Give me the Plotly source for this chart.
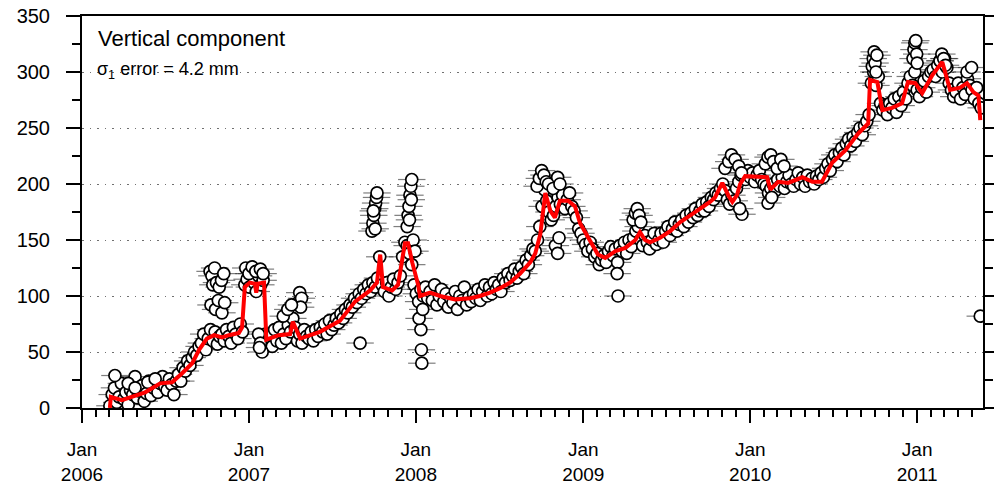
import numpy as np
import pandas as pd
import plotly.graph_objects as go

BASE = pd.Timestamp("2006-01-01")

# Regular daily-ish observations (every 5 days from 2006-03-03)
obs_start = "2006-03-03"
obs_values = [
    2, 12, 18, 5, 10, 22, 8, 14, 3, 16,
    12, 28, 9, 15, 20, 6, 13, 24, 11, 18,
    25, 14, 22, 28, 19, 16, 26, 21, 12, 24,
    30, 24, 36, 33, 42, 38, 45, 50, 47, 55,
    58, 66, 52, 62, 70, 60, 68, 57, 64, 66,
    60, 70, 64, 58, 72, 66, 62, 75, 68, 110,
    115, 108, 120, 112, 104, 118, 110, 114, 66, 58,
    65, 55, 70, 60, 72, 58, 66, 62, 74, 68,
    80, 72, 60, 66, 58, 70, 64, 62, 68, 60,
    70, 64, 72, 68, 75, 66, 78, 70, 74, 80,
    76, 84, 80, 88, 85, 92, 90, 98, 94, 102,
    98, 106, 102, 110, 104, 112, 108, 116, 135, 110,
    104, 112, 100, 108, 115, 106, 112, 118, 135, 148,
    145, 138, 128, 110, 102, 95, 106, 100, 108, 98,
    104, 96, 110, 92, 100, 106, 95, 102, 90, 98,
    94, 104, 88, 100, 96, 108, 92, 99, 95, 102,
    98, 106, 96, 104, 110, 100, 108, 102, 112, 106,
    110, 104, 116, 112, 120, 114, 118, 124, 116, 122,
    126, 120, 132, 128, 136, 142, 140, 150, 162, 180,
    195, 185, 175, 168, 172, 180, 188, 182, 190, 178,
    186, 192, 180, 176, 170, 160, 156, 150, 146, 140,
    148, 142, 135, 138, 128, 132, 136, 130, 140, 144,
    136, 142, 130, 145, 140, 148, 138, 150, 144, 152,
    158, 162, 150, 145, 154, 148, 142, 150, 156, 146,
    150, 156, 148, 158, 162, 154, 160, 166, 158, 164,
    168, 162, 172, 166, 174, 170, 178, 172, 176, 182,
    176, 184, 180, 188, 186, 192, 190, 196, 200, 194,
    186, 182, 190, 185, 196, 202, 208, 210, 204, 212,
    206, 210, 202, 208, 212, 204, 200, 198, 192, 196,
    200, 194, 204, 198, 206, 196, 202, 208, 200, 198,
    204, 210, 200, 206, 198, 208, 202, 205, 200, 207,
    204, 210, 206, 214, 218, 212, 222, 226, 220, 228,
    232, 226, 236, 240, 234, 242, 238, 246, 250, 244,
    252, 256, 262, 290, 300, 288, 296, 272, 266, 270,
    262, 272, 268, 276, 264, 278, 270, 282, 276, 290,
    296, 288, 300, 284, 278, 286, 292, 282, 296, 300,
    302, 296, 306, 310, 300, 312, 304, 290, 284, 278,
    282, 290, 276, 286, 280, 294, 288, 284, 276, 286,
    272, 268,
]

# Extra observations (day offset from 2006-01-01, value) for clusters/outliers
extra_days = [
    72, 101, 144, 160, 116,
    280, 284, 286, 290, 294, 300, 305, 310, 282, 292, 298, 306, 312,
    358, 365, 372, 380, 390, 396, 386, 390, 394, 388,
    472, 476, 480, 478, 440, 450, 458, 608,
    634, 636, 638, 640, 642, 644, 645, 637, 641,
    711, 713, 715, 717, 719, 721, 716, 720, 724, 728,
    741, 742, 743, 737, 745,
    995, 1000, 1005, 1010, 1015, 1020, 1030, 1040, 1045, 1035, 1040, 1043,
    1172, 1170,
    1205, 1210, 1214, 1218, 1222,
    1406, 1414, 1420, 1428, 1436, 1442, 1443, 1438,
    1494, 1500, 1506, 1512, 1520, 1528, 1535, 1500, 1508,
    1728, 1730, 1732, 1734, 1736, 1738,
    1817, 1819, 1821, 1823, 1825, 1826,
    1876, 1880, 1884, 1888, 1935, 1945,
    1964,
]
extra_values = [
    29, 22, 23, 26, 18,
    122, 118, 110, 125, 112, 108, 114, 120, 92, 88, 96, 85, 94,
    125, 120, 126, 122, 124, 120, 66, 58, 50, 54,
    94, 103, 98, 90, 82, 88, 92, 58,
    158, 165, 172, 178, 183, 188, 192, 176, 160,
    162, 172, 180, 190, 198, 204, 168, 186, 150, 140,
    70, 52, 40, 80, 88,
    198, 205, 212, 208, 202, 200, 196, 206, 200, 145, 138, 152,
    100, 120,
    168, 174, 178, 172, 166,
    214, 220, 226, 222, 216, 210, 173, 178,
    218, 224, 226, 220, 214, 222, 216, 183, 188,
    305, 312, 318, 308, 300, 315,
    312, 320, 326, 328, 316, 308,
    310, 316, 312, 306, 300, 304,
    82,
]

# Smoothed (red) curve: day offset from 2006-01-01 and value
smooth_days = [
    61, 63, 87, 109, 138, 171, 197, 219, 241, 256, 273, 289, 306, 321, 343, 350, 356, 367,
    378, 381, 384, 398, 401, 403, 430, 455, 461, 477, 520, 564, 597, 630, 645, 652, 658,
    678, 691, 706, 713, 722, 735, 739, 761, 783, 816, 849, 870, 892, 914, 936, 958, 980,
    991, 1002, 1013, 1024, 1034, 1045, 1063, 1078, 1089, 1111, 1128, 1144, 1166, 1188,
    1210, 1220, 1231, 1242, 1264, 1286, 1308, 1330, 1352, 1373, 1384, 1400, 1413, 1422,
    1432, 1439, 1450, 1498, 1505, 1522, 1544, 1575, 1597, 1618, 1640, 1669, 1697, 1719,
    1723, 1739, 1750, 1771, 1793, 1806, 1822, 1837, 1859, 1881, 1898, 1920, 1935, 1949,
    1960, 1964,
]
smooth_values = [
    0, 10, 7, 10, 14, 22, 23, 31, 40, 52, 62, 65, 63, 65, 67, 72, 108, 112,
    111, 103, 111, 112, 90, 61, 65, 66, 77, 62, 68, 78, 95, 105, 112, 137, 108,
    105, 110, 147, 147, 130, 110, 100, 103, 100, 97, 98, 100, 103, 107, 112, 120, 130,
    138, 155, 192, 176, 170, 185, 185, 180, 165, 150, 137, 134, 140, 143,
    150, 157, 150, 148, 152, 158, 166, 172, 178, 184, 188, 201, 190, 184,
    190, 200, 207, 206, 195, 202, 201, 206, 202, 202, 219, 230, 245, 254,
    293, 291, 266, 268, 272, 291, 290, 281, 297, 309, 284, 286, 290, 282,
    279, 257,
]

x_tick_dates = ["2006-01-01", "2007-01-01", "2008-01-01", "2009-01-01", "2010-01-01", "2011-01-01"]
x_tick_labels = ["Jan<br>2006", "Jan<br>2007", "Jan<br>2008", "Jan<br>2009", "Jan<br>2010", "Jan<br>2011"]
y_tick_vals = [0, 50, 100, 150, 200, 250, 300, 350]

ERR_DAYS = 30  # half-length of the horizontal bars drawn through each point

# ---- build ----
obs_dates = pd.date_range(obs_start, periods=len(obs_values), freq="5D")
ex_dates = BASE + pd.to_timedelta(extra_days, unit="D")
all_dates = list(obs_dates) + list(ex_dates)
all_vals = list(obs_values) + list(extra_values)

seg_x, seg_y = [], []
half = pd.Timedelta(days=ERR_DAYS)
for d, v in zip(all_dates, all_vals):
    seg_x += [d - half, d + half, None]
    seg_y += [v, v, None]

sm_dates = BASE + pd.to_timedelta(smooth_days, unit="D")

fig = go.Figure()
fig.add_trace(go.Scatter(x=seg_x, y=seg_y, mode="lines",
                         line=dict(color="rgba(40,40,40,0.6)", width=1.2),
                         hoverinfo="skip", showlegend=False))
fig.add_trace(go.Scatter(x=all_dates, y=all_vals, mode="markers",
                         marker=dict(size=12, color="white",
                                     line=dict(color="black", width=1.7)),
                         showlegend=False))
fig.add_trace(go.Scatter(x=sm_dates, y=smooth_values, mode="lines",
                         line=dict(color="#ff0000", width=4),
                         showlegend=False))

font_family = "Liberation Sans, Arial, sans-serif"
fig.update_layout(
    width=994, height=485,
    margin=dict(l=82, r=11, t=16, b=77, autoexpand=False),
    paper_bgcolor="white", plot_bgcolor="white",
    font=dict(family=font_family, size=20, color="black"),
    showlegend=False,
)
fig.update_xaxes(
    type="date", automargin=False,
    range=["2006-01-01", "2011-05-25"],
    tickvals=x_tick_dates, ticktext=x_tick_labels,
    tickfont=dict(size=19),
    ticks="outside", ticklen=13, tickwidth=1.5, tickcolor="black",
    showline=True, linewidth=2, linecolor="black", mirror=True,
    showgrid=False, zeroline=False,
    minor=dict(dtick="M1", tick0="2006-01-01", ticks="outside", ticklen=7,
               tickwidth=1.5, tickcolor="black", showgrid=False),
    ticklabelstandoff=10,
)
fig.update_yaxes(
    automargin=False,
    range=[0, 350],
    tickvals=y_tick_vals,
    tickfont=dict(size=20),
    ticks="outside", ticklen=14, tickwidth=1.5, tickcolor="black",
    showline=True, linewidth=2, linecolor="black", mirror="ticks",
    showgrid=True, gridcolor="#707070", gridwidth=1.2, griddash="1.5px,6px",
    zeroline=False,
    minor=dict(dtick=25, ticks="outside", ticklen=8, tickwidth=1.5,
               tickcolor="black", showgrid=False),
    ticklabelstandoff=12,
)
fig.add_annotation(xref="paper", yref="paper", x=(96 - 82) / 901, y=(408 - 24) / 392,
                   xanchor="left", yanchor="top", showarrow=False,
                   text="Vertical component", font=dict(size=22, family=font_family))
fig.add_annotation(xref="paper", yref="paper", x=(95 - 82) / 901, y=(408 - 57) / 392,
                   xanchor="left", yanchor="top", showarrow=False,
                   text="σ<sub>1</sub> error = 4.2 mm", font=dict(size=18, family=font_family))

fig.write_html("out.html", config={"displayModeBar": False},
               post_script="document.body.style.margin='0';document.body.style.padding='0';")
